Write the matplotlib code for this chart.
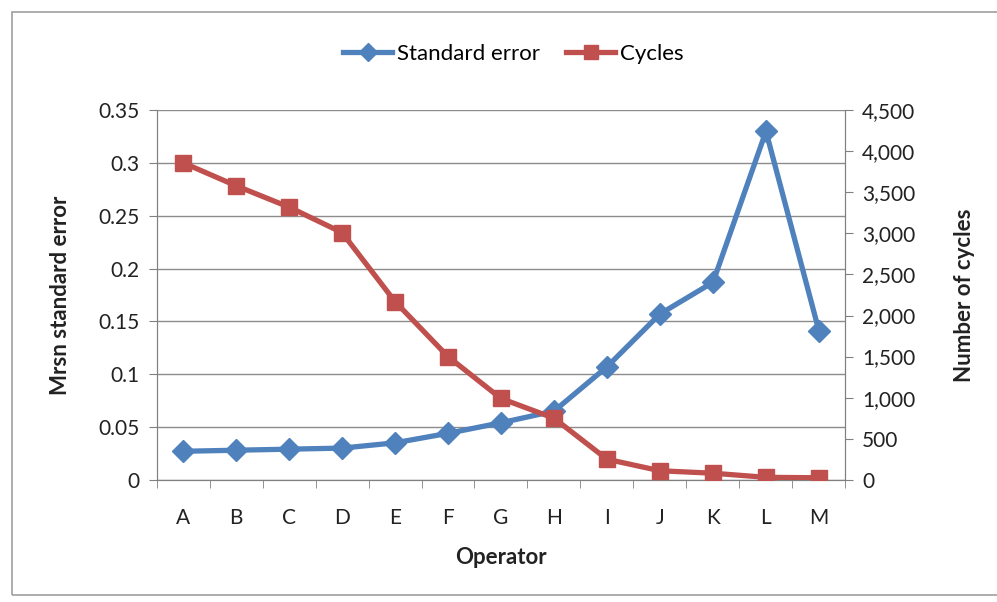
import matplotlib
matplotlib.use("Agg")
import matplotlib.pyplot as plt
import numpy as np
from matplotlib.patches import Rectangle

plt.rcParams['font.family'] = ['Lato', 'DejaVu Sans']

operators = ["A", "B", "C", "D", "E", "F", "G", "H", "I", "J", "K", "L", "M"]
std_error = [0.027, 0.028, 0.029, 0.030, 0.035, 0.044, 0.054, 0.065, 0.107, 0.157, 0.187, 0.330, 0.141]
cycles = [3860, 3580, 3320, 3010, 2170, 1500, 990, 750, 250, 110, 80, 30, 25]

blue = "#4F81BD"
red = "#C0504D"

fig = plt.figure(figsize=(9.97, 6.02), dpi=100)
fig.patches.append(Rectangle((0.012, 0.012), 0.99, 0.968, transform=fig.transFigure,
                             fill=False, edgecolor="#A0A0A0", linewidth=1.2))
ax = fig.add_axes([0.157, 0.203, 0.691, 0.614])
ax2 = ax.twinx()

x = np.arange(len(operators))
l1, = ax.plot(x, std_error, color=blue, linewidth=3.8, marker="D", markersize=11,
              markerfacecolor=blue, markeredgecolor=blue, label="Standard error", zorder=3)
l2, = ax2.plot(x, cycles, color=red, linewidth=3.8, marker="s", markersize=12,
               markerfacecolor=red, markeredgecolor=red, label="Cycles", zorder=3)

ax.set_xlim(-0.5, len(operators) - 0.5)
ax.set_ylim(0, 0.35)
ax2.set_ylim(0, 4500)
ax.set_yticks(np.arange(0, 0.351, 0.05))
ax.set_yticklabels(["0", "0.05", "0.1", "0.15", "0.2", "0.25", "0.3", "0.35"])
ax2.set_yticks(np.arange(0, 4501, 500))
ax2.set_yticklabels([f"{v:,}" for v in range(0, 4501, 500)])
ax.set_xticks(x)
ax.set_xticklabels(operators)
ax.set_xticks(np.arange(-0.5, len(operators)), minor=True)
ax.tick_params(axis="x", which="major", length=0, labelsize=15, pad=20, colors="#222222")
ax.tick_params(axis="x", which="minor", length=6, direction="out", color="#808080")
ax.tick_params(axis="y", length=6, direction="out", labelsize=15, pad=6, color="#808080", labelcolor="#222222")
ax2.tick_params(axis="y", length=6, direction="out", labelsize=15, pad=6, color="#808080", labelcolor="#222222")

ax.yaxis.grid(True, color="#8C8C8C", linewidth=1.0)
ax.set_axisbelow(True)
for a in (ax, ax2):
    a.spines["top"].set_visible(False)
    a.spines["left"].set_color("#808080")
    a.spines["right"].set_color("#808080")
    a.spines["bottom"].set_color("#808080")

ax.set_xlabel("Operator", fontsize=16, fontweight="bold", labelpad=14, color="#222222")
ax.set_ylabel("Mrsn standard error", fontsize=16, fontweight="bold", labelpad=20, color="#222222")
ax2.set_ylabel("Number of cycles", fontsize=16, fontweight="bold", labelpad=28, color="#222222")

fig.legend(handles=[l1, l2], loc="center", bbox_to_anchor=(0.515, 0.91), ncol=2,
           frameon=False, fontsize=16, handlelength=2.2, columnspacing=1.2, handletextpad=0.2,
           markerscale=0.8)

fig.savefig("out.png", dpi=100)
